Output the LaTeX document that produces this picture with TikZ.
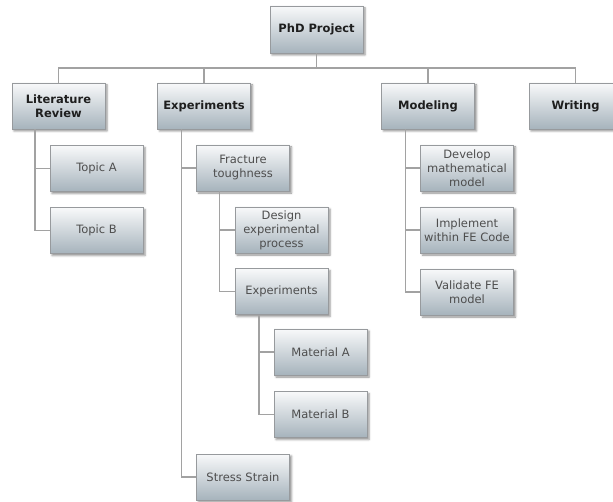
\documentclass[tikz,border=0pt]{standalone}
\usepackage{fontspec}
\setmainfont{DejaVu Sans}
\usetikzlibrary{calc,shadows.blur}
\definecolor{boxtop}{HTML}{F8F9FA}
\definecolor{boxbot}{HTML}{A6B3BC}
\definecolor{boxedge}{HTML}{979A9D}
\definecolor{wire}{HTML}{A2A2A2}
\definecolor{txtdark}{HTML}{1E1E1E}
\definecolor{txtsoft}{HTML}{4E4E4E}
\tikzset{
  card/.style={draw=boxedge, line width=0.6pt, top color=boxtop, bottom color=boxbot,
    minimum width=93pt, minimum height=46pt, align=center, inner sep=2pt,
    blur shadow={shadow xshift=2pt, shadow yshift=-2pt, shadow blur radius=2pt, shadow opacity=45},
    font=\fontsize{11.5}{14}\selectfont},
  headcard/.style={card, text=txtdark, font=\fontsize{11.5}{14}\selectfont\bfseries},
  subcard/.style={card, text=txtsoft},
  wirestyle/.style={draw=wire, line width=1.4pt}
}
\begin{document}
\begin{tikzpicture}[x=1pt, y=-1pt]
\useasboundingbox (0,0) rectangle (613,502);

% top level
\node[headcard, minimum height=47pt] (phd) at (316.5,29.5) {PhD Project};
\node[headcard] (lit) at (58.5,106) {Literature\\Review};
\node[headcard] (exp) at (204,106) {Experiments};
\node[headcard] (mod) at (428,106) {Modeling};
\node[headcard] (wri) at (575.5,106) {Writing};

% literature review branch
\node[subcard] (topA) at (96.5,168.5) {Topic A};
\node[subcard] (topB) at (96.5,230.5) {Topic B};

% experiments branch
\node[subcard] (frac) at (243,168) {Fracture\\toughness};
\node[subcard] (design) at (281.5,230) {Design\\experimental\\process};
\node[subcard] (exps) at (281.5,291.5) {Experiments};
\node[subcard] (matA) at (320.5,352) {Material A};
\node[subcard] (matB) at (320.5,414.5) {Material B};
\node[subcard] (stress) at (243,477) {Stress Strain};

% modeling branch
\node[subcard] (dev) at (467,168) {Develop\\mathematical\\model};
\node[subcard] (impl) at (467,230) {Implement\\within FE Code};
\node[subcard] (val) at (467,292) {Validate FE\\model};

% connectors
\coordinate (bus) at (316.5,68);
\draw[wirestyle] (phd.south) -- (bus);
\foreach \c in {lit,exp,mod,wri}
  \draw[wirestyle] (bus) -| (\c.north);

\coordinate (litspine) at ($(lit.south west)!0.25!(lit.south east)$);
\draw[wirestyle] (litspine) |- (topA.west);
\draw[wirestyle] (litspine) |- (topB.west);

\coordinate (expspine) at ($(exp.south west)!0.26!(exp.south east)$);
\draw[wirestyle] (expspine) |- (frac.west);
\draw[wirestyle] (expspine) |- (stress.west);

\coordinate (fracspine) at ($(frac.south west)!0.25!(frac.south east)$);
\draw[wirestyle] (fracspine) |- (design.west);
\draw[wirestyle] (fracspine) |- (exps.west);

\coordinate (expsspine) at ($(exps.south west)!0.26!(exps.south east)$);
\draw[wirestyle] (expsspine) |- (matA.west);
\draw[wirestyle] (expsspine) |- (matB.west);

\coordinate (modspine) at ($(mod.south west)!0.26!(mod.south east)$);
\draw[wirestyle] (modspine) |- (dev.west);
\draw[wirestyle] (modspine) |- (impl.west);
\draw[wirestyle] (modspine) |- (val.west);
\end{tikzpicture}
\end{document}
